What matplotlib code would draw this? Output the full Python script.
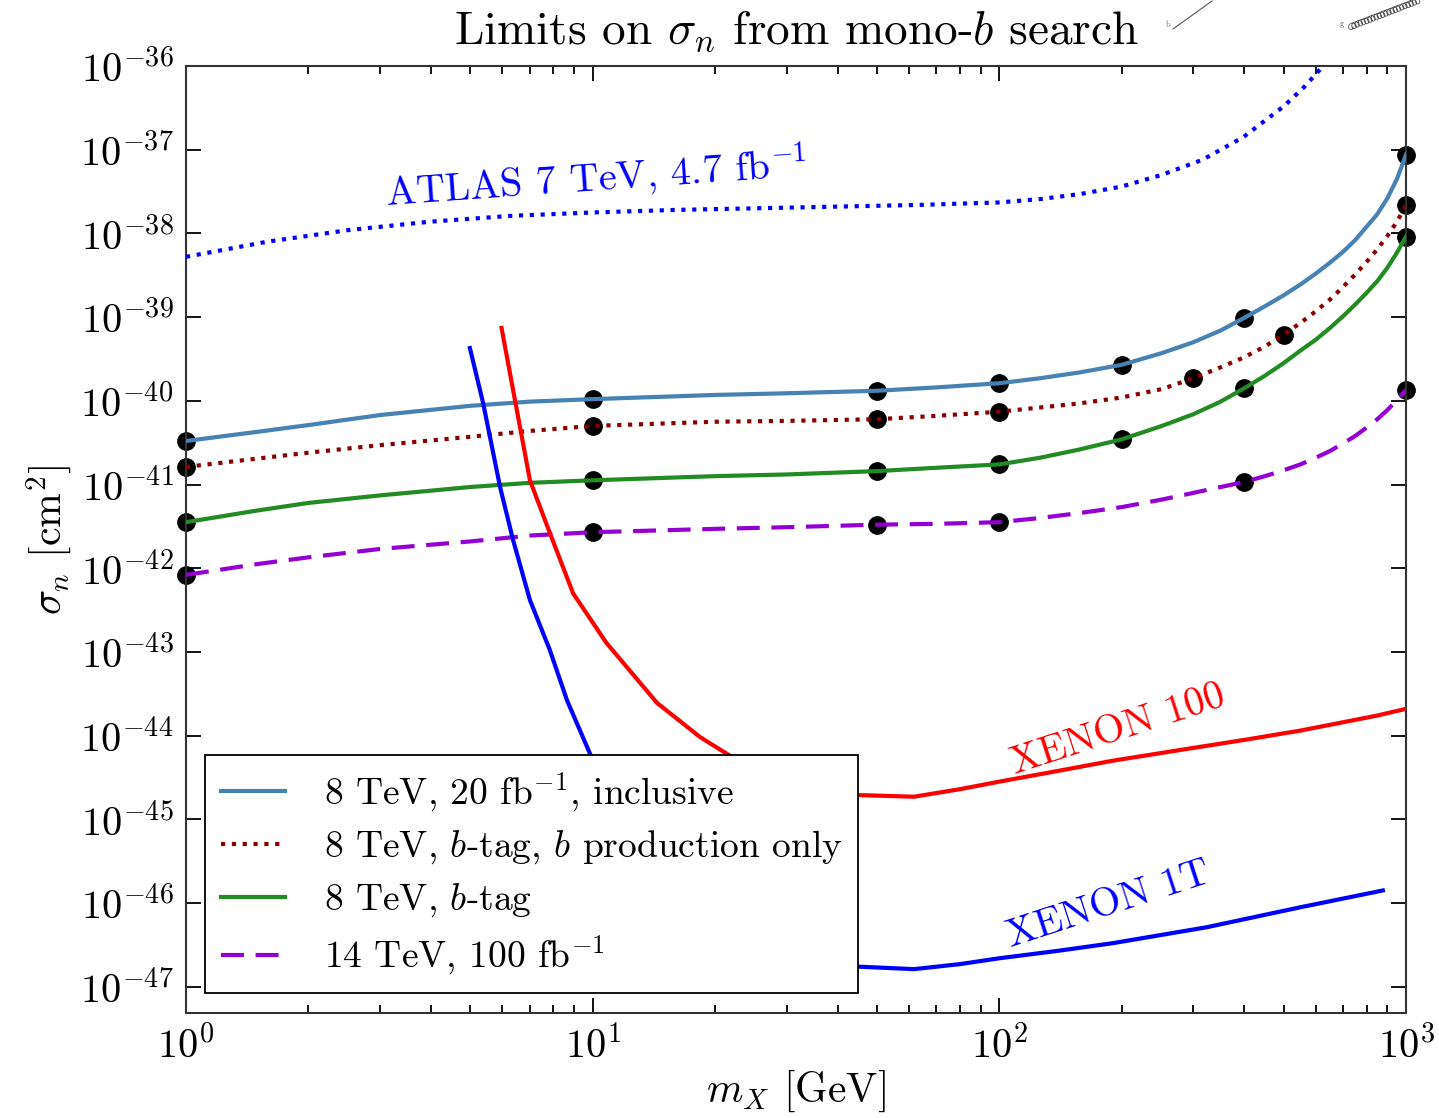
import numpy as np
import matplotlib
matplotlib.use("Agg")
import matplotlib.pyplot as plt
from matplotlib.ticker import FuncFormatter, LogLocator, NullLocator

plt.rcParams['font.family'] = 'serif'
plt.rcParams['font.serif'] = ['cmr10', 'DejaVu Serif']
plt.rcParams['mathtext.fontset'] = 'cm'
plt.rcParams['axes.unicode_minus'] = False

# ---------------- data (log10 of sigma_n in cm^2) ----------------
curve_x = [1, 1.5, 2, 3, 5, 7, 10, 20, 30, 50, 70, 100, 126, 158, 200, 251, 300, 350,
           400, 450, 500, 550, 600, 650, 700, 750, 800, 850, 900, 950, 1000]
incl_l = [-40.48, -40.37, -40.29, -40.17, -40.06, -40.01, -39.98, -39.93, -39.91, -39.88,
          -39.84, -39.79, -39.73, -39.66, -39.57, -39.43, -39.30, -39.16, -39.01, -38.87,
          -38.74, -38.61, -38.48, -38.35, -38.22, -38.08, -37.92, -37.77, -37.58, -37.35,
          -37.06]
bprod_l = [-40.79, -40.69, -40.62, -40.53, -40.43, -40.36, -40.30, -40.25, -40.24, -40.22,
           -40.18, -40.13, -40.08, -40.03, -39.96, -39.86, -39.73, -39.60, -39.48, -39.35,
           -39.21, -39.07, -38.93, -38.79, -38.64, -38.49, -38.34, -38.19, -38.03, -37.86,
           -37.66]
btag_l = [-41.45, -41.31, -41.22, -41.13, -41.03, -40.98, -40.95, -40.90, -40.88, -40.84,
          -40.80, -40.76, -40.68, -40.58, -40.46, -40.30, -40.16, -40.01, -39.85, -39.70,
          -39.55, -39.40, -39.27, -39.13, -38.99, -38.85, -38.71, -38.57, -38.41, -38.23,
          -38.04]
t14_l = [-42.08, -41.95, -41.87, -41.77, -41.68, -41.61, -41.57, -41.53, -41.51, -41.48,
         -41.47, -41.45, -41.40, -41.34, -41.27, -41.18, -41.10, -41.03, -40.97, -40.90,
         -40.83, -40.76, -40.68, -40.60, -40.51, -40.42, -40.32, -40.22, -40.11, -39.99,
         -39.87]

# computed points (black dots)
incl_px = [1, 10, 50, 100, 200, 400, 1000]
incl_pl = [-40.48, -39.98, -39.88, -39.79, -39.57, -39.01, -37.06]
bprod_px = [1, 10, 50, 100, 300, 500, 1000]
bprod_pl = [-40.79, -40.30, -40.22, -40.13, -39.73, -39.21, -37.66]
btag_px = [1, 10, 50, 100, 200, 400, 1000]
btag_pl = [-41.45, -40.95, -40.84, -40.76, -40.46, -39.85, -38.04]
t14_px = [1, 10, 50, 100, 400, 1000]
t14_pl = [-42.08, -41.57, -41.48, -41.45, -40.97, -39.87]

# ATLAS 7 TeV limit
atlas_x = [1, 1.58, 2.51, 3.98, 6.31, 10, 15.8, 25.1, 39.8, 63.1, 100, 126, 158, 200,
           251, 316, 398, 501, 562, 631, 708]
atlas_l = [-38.28, -38.10, -37.96, -37.86, -37.79, -37.75, -37.72, -37.70, -37.68, -37.66,
           -37.63, -37.59, -37.53, -37.44, -37.30, -37.12, -36.85, -36.48, -36.25, -35.98,
           -35.70]

# direct detection
x100_x = [5.97, 6.44, 7.01, 7.85, 8.95, 10.8, 14.4, 18.4, 22.6, 30, 40, 44.7, 61.7,
          80, 100, 140, 190, 280, 402, 550, 684, 850, 1000]
x100_l = [-39.13, -39.99, -40.95, -41.58, -42.30, -42.89, -43.61, -44.02, -44.29,
          -44.55, -44.68, -44.71, -44.73, -44.64, -44.55, -44.42, -44.30, -44.17, -44.05,
          -43.94, -43.85, -43.76, -43.68]
x1t_x = [4.99, 5.38, 5.92, 6.37, 7.01, 7.85, 8.65, 10.0, 15, 20, 30, 44.8, 61.7,
         80, 100, 140, 190, 323, 551, 877]
x1t_l = [-39.37, -40.03, -41.03, -41.66, -42.38, -42.98, -43.58, -44.29, -45.3,
         -45.8, -46.4, -46.76, -46.79, -46.73, -46.66, -46.57, -46.48, -46.29, -46.05,
         -45.85]

legend_labels = [r'8 TeV, 20 fb$^{-1}$, inclusive',
                 r'8 TeV, $b$-tag, $b$ production only',
                 r'8 TeV, $b$-tag',
                 r'14 TeV, 100 fb$^{-1}$']

def p(v):
    return 10.0 ** np.asarray(v, dtype=float)

W, H = 1439, 1118
fig = plt.figure(figsize=(W / 100, H / 100), dpi=100)
ax = fig.add_axes([186 / W, 1 - 1013 / H, (1406 - 186) / W, (1013 - 66) / H])

lw = 3.0
ms = 12.5
# dots first, lines on top
for xs, ls in [(incl_px, incl_pl), (bprod_px, bprod_pl), (btag_px, btag_pl), (t14_px, t14_pl)]:
    ax.plot(xs, p(ls), 'o', color='black', ms=ms, zorder=2, clip_on=False)

ax.plot(curve_x, p(incl_l), color='#4682B4', lw=lw, zorder=3, label=legend_labels[0])
ax.plot(curve_x, p(bprod_l), color='#8B0000', lw=lw, ls=(0, (1, 1.6)), zorder=3,
        label=legend_labels[1])
ax.plot(curve_x, p(btag_l), color='#228B22', lw=lw, zorder=3, label=legend_labels[2])
ax.plot(curve_x, p(t14_l), color='#9400D3', lw=lw, ls=(0, (5.5, 2.8)), zorder=3,
        label=legend_labels[3])
ax.plot(atlas_x, p(atlas_l), color='blue', lw=lw, ls=(0, (1, 1.6)), zorder=3)
ax.plot(x100_x, p(x100_l), color='red', lw=lw, zorder=3)
ax.plot(x1t_x, p(x1t_l), color='blue', lw=lw, zorder=3)

ax.set_xscale('log')
ax.set_yscale('log')
ax.set_xlim(1, 1000)
ax.set_ylim(10 ** -47.314, 1e-36)

ax.yaxis.set_major_locator(LogLocator(base=10, numticks=20))
ax.yaxis.set_minor_locator(NullLocator())
fmt = FuncFormatter(lambda v, pos: r'$10^{%d}$' % int(round(np.log10(v))))
ax.xaxis.set_major_formatter(fmt)
ax.yaxis.set_major_formatter(fmt)
ax.tick_params(which='both', direction='in', top=True, right=True, width=1.3)
ax.tick_params(which='major', length=11, labelsize=29, pad=9)
ax.tick_params(which='minor', length=6)
for s in ax.spines.values():
    s.set_linewidth(1.5)
    s.set_color('#333333')

ax.set_xlabel(r'$m_X$ [GeV]', fontsize=30, labelpad=2)
ax.set_ylabel(r'$\sigma_n$ [cm$^2$]', fontsize=30, labelpad=4)
ax.set_title(r'Limits on $\sigma_n$ from mono-$b$ search', fontsize=34, pad=16)

ax.text(10.2, p(-37.34), r'ATLAS 7 TeV, 4.7 fb$^{-1}$', color='blue', fontsize=29,
        rotation=4, ha='center', va='center')
ax.text(196, p(-43.93), 'XENON 100', color='red', fontsize=29, rotation=18,
        ha='center', va='center')
ax.text(186, p(-46.02), 'XENON 1T', color='blue', fontsize=29, rotation=18,
        ha='center', va='center')

leg = ax.legend(loc='lower left', bbox_to_anchor=(0.0156, 0.0211), borderaxespad=0,
                fontsize=27, frameon=True, fancybox=False, framealpha=1.0,
                handlelength=1.7, handletextpad=1.05, labelspacing=0.4, borderpad=0.42)
leg.get_frame().set_edgecolor('black')
leg.get_frame().set_linewidth(1.3)
leg.set_zorder(5)

# cropped diagram remnants at the top right
fig.add_artist(matplotlib.lines.Line2D([1173 / W, 1212 / W], [1 - 29 / H, 1 - 1 / H],
                                       color='#555555', lw=0.8))
fig.text(1166 / W, 1 - 27 / H, 'b', fontsize=6, color='#aa6633')
t = np.linspace(0, 1, 400)
cx = 1350 + 70 * t + 3 * np.cos(2 * np.pi * 22 * t)
cy = 27 - 27 * t + 3 * np.sin(2 * np.pi * 22 * t)
fig.add_artist(matplotlib.lines.Line2D(cx / W, 1 - cy / H, color='#555555', lw=0.6))
fig.text(1340 / W, 1 - 26 / H, 'g', fontsize=6, color='#555555')

fig.savefig('out.png', dpi=100)
